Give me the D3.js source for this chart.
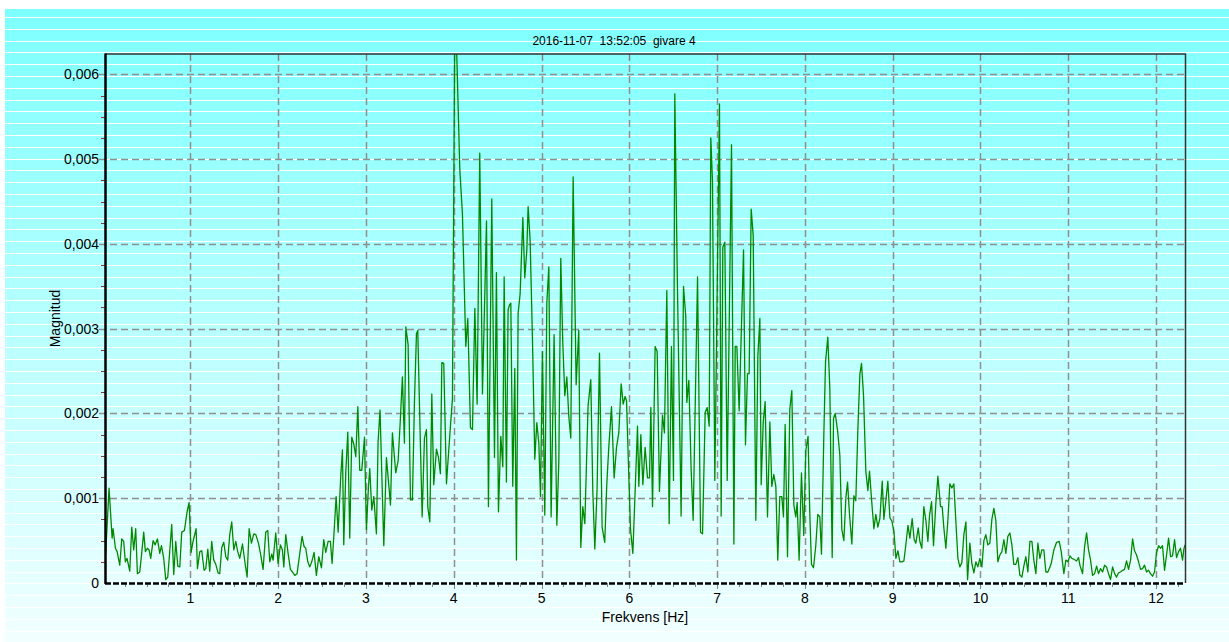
<!DOCTYPE html>
<html>
<head>
<meta charset="utf-8">
<script src="https://cdn.jsdelivr.net/npm/d3@7"></script>
<style>
  body { margin: 0; background: #fff; }
  svg text { font-family: Arial, "Liberation Sans", sans-serif; fill: #000; }
</style>
</head>
<body>
<svg id="chart"></svg>
<script>
// ---- data ----
const chartTitle = "2016-11-07  13:52:05  givare 4";
const xLabel = "Frekvens [Hz]";
const yLabel = "Magnitud";

const xTicks = [1, 2, 3, 4, 5, 6, 7, 8, 9, 10, 11, 12];
// magnitude is kept in units of 0.001
const yTicks = [0, 1, 2, 3, 4, 5, 6];
const yTickLabels = ["0", "0,001", "0,002", "0,003", "0,004", "0,005", "0,006"];

const xDomain = [0.027, 12.33];
const yDomain = [0, 6.24];

// [frequency Hz, magnitude x 0.001]
const spectrum = [
  [0.027,0.65],[0.035,0.35],[0.073,1.12],[0.108,0.53],[0.119,0.64],[0.146,0.41],[0.165,0.37],[0.195,0.21],[0.218,0.52],[0.240,0.49],
  [0.259,0.25],[0.278,0.29],[0.309,0.14],[0.332,0.66],[0.354,0.39],[0.377,0.64],[0.396,0.11],[0.423,0.13],[0.445,0.35],[0.468,0.60],
  [0.487,0.37],[0.510,0.41],[0.529,0.39],[0.548,0.29],[0.575,0.50],[0.598,0.45],[0.624,0.52],[0.651,0.35],[0.670,0.44],[0.696,0.29],
  [0.719,0.04],[0.742,0.07],[0.765,0.38],[0.787,0.69],[0.810,0.10],[0.833,0.49],[0.856,0.20],[0.879,0.19],[0.901,0.60],[0.932,0.62],
  [0.962,0.84],[0.985,0.95],[1.008,0.36],[1.030,0.49],[1.065,0.64],[1.080,0.17],[1.107,0.37],[1.129,0.38],[1.156,0.15],[1.175,0.17],
  [1.198,0.40],[1.220,0.14],[1.243,0.49],[1.266,0.27],[1.289,0.22],[1.315,0.12],[1.334,0.11],[1.357,0.42],[1.380,0.48],[1.403,0.31],
  [1.425,0.27],[1.448,0.57],[1.471,0.72],[1.494,0.39],[1.517,0.49],[1.539,0.37],[1.562,0.29],[1.593,0.46],[1.623,0.23],[1.646,0.07],
  [1.669,0.64],[1.695,0.47],[1.722,0.58],[1.745,0.57],[1.775,0.47],[1.798,0.35],[1.828,0.16],[1.858,0.60],[1.881,0.62],[1.904,0.25],
  [1.927,0.34],[1.942,0.27],[1.972,0.59],[1.999,0.23],
  [2.025,0.45],[2.048,0.39],[2.064,0.19],[2.086,0.57],[2.113,0.35],[2.139,0.16],[2.162,0.13],[2.189,0.09],[2.215,0.11],[2.246,0.35],
  [2.272,0.55],[2.295,0.43],[2.314,0.41],[2.337,0.25],[2.360,0.19],[2.382,0.25],[2.409,0.36],[2.435,0.09],[2.462,0.31],[2.493,0.18],
  [2.519,0.51],[2.542,0.36],[2.569,0.49],[2.595,0.49],[2.614,0.23],[2.637,0.61],[2.660,1.02],[2.683,0.60],[2.713,1.27],[2.732,1.57],
  [2.747,0.45],[2.770,1.31],[2.793,1.78],[2.815,0.53],[2.838,1.72],[2.861,1.64],[2.884,1.49],[2.907,2.08],[2.929,1.33],[2.952,1.33],
  [2.983,1.72],[3.005,0.63],[3.028,1.13],[3.043,1.35],[3.066,0.86],[3.089,1.02],[3.119,0.58],[3.138,1.67],
  [3.160,2.04],[3.203,0.44],[3.233,1.48],[3.256,1.20],[3.279,0.92],[3.301,1.77],[3.339,1.30],[3.366,1.44],[3.390,1.90],[3.415,2.43],
  [3.438,1.65],[3.454,3.02],[3.480,2.81],[3.507,0.98],[3.529,0.98],[3.552,2.13],[3.575,2.94],[3.590,2.98],[3.613,1.93],[3.640,0.78],
  [3.666,1.71],[3.689,1.81],[3.704,0.90],[3.727,0.72],[3.750,2.23],[3.772,1.16],[3.803,1.58],[3.826,1.48],[3.848,1.29],[3.864,2.60],
  [3.886,2.59],[3.917,1.17],[3.940,1.52],[3.962,1.85],[3.985,2.17],[4.012,6.60],[4.035,6.20],[4.069,4.87],[4.099,4.35],[4.137,2.79],
  [4.160,3.12],[4.190,1.83],[4.213,1.81],[4.240,3.24],[4.266,2.11],[4.296,5.07],[4.327,2.23],[4.373,4.27],[4.395,0.90],[4.433,4.53],
  [4.464,1.48],[4.486,3.66],[4.509,0.84],
  [4.536,1.73],[4.559,1.37],[4.574,3.61],[4.600,1.19],[4.619,3.22],[4.635,3.28],[4.650,3.30],[4.672,1.14],[4.695,2.53],[4.714,0.27],
  [4.733,3.18],[4.756,3.41],[4.787,4.31],[4.809,3.60],[4.832,3.92],[4.847,4.44],[4.870,4.04],[4.897,2.85],[4.923,1.46],[4.946,1.89],
  [4.969,1.65],[4.988,1.02],[5.010,2.73],[5.037,0.80],[5.060,3.30],[5.083,3.73],[5.109,0.78],[5.143,2.93],[5.174,0.68],[5.197,1.44],
  [5.219,3.83],[5.242,2.83],[5.265,2.21],[5.288,2.43],[5.310,1.97],[5.333,1.71],[5.360,4.79],[5.394,2.34],[5.424,2.98],[5.447,0.42],
  [5.470,0.90],[5.493,0.70],[5.530,2.09],[5.561,2.40],[5.584,1.08],[5.607,0.40],[5.633,1.12],[5.660,2.71],[5.690,0.66],[5.720,0.48],
  [5.743,1.16],[5.766,1.60],[5.797,2.08],[5.827,1.24],
  [5.854,1.60],[5.880,1.77],[5.907,2.35],[5.930,2.11],[5.952,2.20],[5.968,2.15],[5.990,1.40],[6.013,0.64],[6.040,0.35],[6.066,1.08],
  [6.093,1.85],[6.108,1.14],[6.131,1.75],[6.154,1.16],[6.180,1.60],[6.207,1.24],[6.230,1.24],[6.245,2.07],[6.264,0.90],[6.294,2.79],
  [6.317,2.73],[6.343,1.08],[6.378,1.98],[6.400,1.77],[6.427,3.45],[6.454,0.70],[6.480,2.79],[6.503,1.21],[6.518,5.77],[6.548,3.50],
  [6.590,0.79],[6.617,3.50],[6.643,3.14],[6.655,2.13],[6.678,2.39],[6.704,1.34],[6.727,0.74],[6.777,3.61],[6.811,0.60],[6.834,0.58],
  [6.864,2.01],[6.887,2.07],[6.910,1.85],
  [6.928,5.25],[6.947,4.75],[6.974,1.21],[7.027,5.65],[7.046,0.79],[7.065,3.96],[7.088,4.02],[7.115,1.21],[7.164,5.17],[7.191,0.46],
  [7.206,2.79],[7.225,2.79],[7.251,2.03],[7.301,3.93],[7.323,1.63],[7.346,2.47],[7.365,2.47],[7.388,4.41],[7.411,4.10],[7.441,0.74],
  [7.464,2.67],[7.487,3.12],[7.502,1.16],[7.525,1.89],[7.547,2.14],[7.574,0.78],[7.601,1.90],[7.623,1.14],[7.646,1.28],[7.669,1.14],
  [7.691,0.27],[7.714,1.02],[7.737,1.02],[7.756,0.78],[7.775,1.87],[7.802,0.31],[7.828,2.05],[7.851,2.27],[7.874,0.92],[7.896,0.78],
  [7.912,0.95],[7.934,0.27],[7.961,1.30],[7.987,0.56],[8.010,1.56],[8.036,1.73],
  [8.056,0.81],[8.075,0.22],[8.098,0.18],[8.124,0.44],[8.147,0.81],[8.170,0.78],[8.189,0.34],[8.216,1.76],[8.235,2.61],[8.261,2.90],
  [8.284,2.29],[8.311,0.30],[8.326,1.94],[8.345,2.00],[8.372,1.80],[8.398,1.51],[8.421,0.63],[8.444,0.50],[8.467,1.01],[8.486,1.19],
  [8.508,0.81],[8.535,0.46],[8.558,1.03],[8.580,0.97],[8.603,1.80],[8.626,2.46],[8.645,2.59],[8.668,2.21],[8.694,1.32],[8.717,1.09],
  [8.736,1.32],[8.759,0.99],[8.786,0.64],[8.808,0.81],[8.831,0.66],[8.854,0.76],[8.881,1.20],[8.900,0.75],[8.922,0.97],[8.945,1.20],
  [8.968,0.77],[8.991,0.73],[9.014,0.61],[9.037,0.29],[9.060,0.38],[9.082,0.25],[9.105,0.25],[9.128,0.26],[9.151,0.46],[9.174,0.68],
  [9.196,0.53],
  [9.222,0.76],[9.245,0.51],[9.264,0.47],[9.291,0.65],[9.310,0.49],[9.332,0.41],[9.355,0.90],[9.378,0.74],[9.401,0.49],[9.420,0.80],
  [9.443,0.96],[9.465,0.44],[9.492,0.94],[9.515,1.26],[9.545,0.90],[9.564,0.90],[9.583,0.65],[9.606,0.41],[9.629,0.74],[9.651,1.17],
  [9.674,1.12],[9.697,1.17],[9.720,0.72],[9.743,0.29],[9.765,0.19],[9.788,0.24],[9.811,0.57],[9.834,0.72],[9.853,0.04],[9.879,0.47],
  [9.902,0.23],[9.925,0.12],[9.948,0.25],[9.970,0.19],[9.993,0.29],[10.016,0.19],[10.039,0.50],[10.061,0.57],[10.084,0.45],[10.107,0.47],
  [10.130,0.75],[10.153,0.88],[10.175,0.74],[10.198,0.25],[10.221,0.33],[10.244,0.37],[10.267,0.51],[10.289,0.35],[10.312,0.55],[10.335,0.59],
  [10.358,0.45],[10.380,0.22],[10.403,0.22],[10.426,0.30],[10.449,0.09],[10.472,0.07],[10.494,0.20],[10.517,0.31],[10.540,0.13],[10.563,0.49],
  [10.586,0.49],[10.608,0.27],[10.631,0.11],[10.654,0.47],[10.677,0.29],[10.699,0.39],[10.722,0.39],[10.745,0.13],[10.768,0.13],[10.791,0.19],
  [10.806,0.23],[10.836,0.39],[10.867,0.48],[10.897,0.49],[10.920,0.37],[10.950,0.11],[10.973,0.27],[10.996,0.25],[11.019,0.32],[11.041,0.29],
  [11.064,0.28],[11.095,0.26],[11.117,0.30],[11.133,0.21],[11.163,0.11],[11.186,0.43],[11.209,0.59],[11.231,0.39],[11.254,0.27],[11.277,0.09],
  [11.300,0.11],[11.323,0.20],[11.345,0.11],[11.368,0.17],[11.391,0.13],[11.414,0.21],[11.436,0.19],[11.459,0.11],[11.482,0.04],[11.505,0.19],
  [11.528,0.11],[11.550,0.07],[11.573,0.12],[11.596,0.13],[11.619,0.15],[11.641,0.16],[11.664,0.26],[11.687,0.16],[11.710,0.27],[11.733,0.52],
  [11.755,0.38],[11.778,0.33],[11.801,0.25],[11.824,0.16],[11.846,0.17],[11.869,0.21],[11.892,0.13],[11.915,0.15],[11.937,0.11],[11.960,0.08],
  [11.983,0.13],[12.006,0.36],[12.029,0.44],[12.052,0.41],[12.074,0.44],[12.097,0.15],[12.120,0.33],[12.143,0.53],[12.166,0.31],[12.188,0.32],
  [12.211,0.51],[12.234,0.30],[12.257,0.37],[12.279,0.41],[12.302,0.27],[12.317,0.40],[12.330,0.45]
];

// ---- layout ----
const width = 1229, height = 642;
const plot = { left: 105, right: 1185, top: 54, bottom: 583 };

const svg = d3.select("#chart")
    .attr("width", width)
    .attr("height", height);

// background panel: cyan to white gradient with thin white stripes
const defs = svg.append("defs");
const grad = defs.append("linearGradient")
    .attr("id", "bg")
    .attr("x1", 0).attr("y1", 0).attr("x2", 0).attr("y2", 1);
grad.append("stop").attr("offset", "0%").attr("stop-color", "#7dffff");
grad.append("stop").attr("offset", "100%").attr("stop-color", "#f2ffff");

defs.append("clipPath").attr("id", "plotClip")
    .append("rect")
    .attr("x", plot.left).attr("y", plot.top)
    .attr("width", plot.right - plot.left)
    .attr("height", plot.bottom - plot.top);

svg.append("rect")
    .attr("x", 5).attr("y", 9)
    .attr("width", width - 5).attr("height", height - 9)
    .attr("fill", "url(#bg)");

svg.append("g")
    .selectAll("line")
    .data(d3.range(17, height, 11.8))
    .enter()
    .append("line")
    .attr("x1", 5).attr("x2", width)
    .attr("y1", d => Math.round(d) + 0.5)
    .attr("y2", d => Math.round(d) + 0.5)
    .attr("stroke", "#fff")
    .attr("stroke-width", 1);

// scales
const x = d3.scaleLinear().domain(xDomain).range([plot.left, plot.right]);
const y = d3.scaleLinear().domain(yDomain).range([plot.bottom, plot.top]);

// grid (dashed grey)
const grid = svg.append("g")
    .attr("stroke", "#8f8f8f")
    .attr("stroke-width", 1.5)
    .attr("stroke-dasharray", "7,4");

grid.selectAll(".gx")
    .data(xTicks)
    .enter()
    .append("line")
    .attr("x1", d => Math.round(x(d)) + 0.5)
    .attr("x2", d => Math.round(x(d)) + 0.5)
    .attr("y1", plot.top)
    .attr("y2", plot.bottom);

grid.selectAll(".gy")
    .data(yTicks.filter(d => d > 0))
    .enter()
    .append("line")
    .attr("x1", plot.left - 6)
    .attr("x2", plot.right)
    .attr("y1", d => Math.round(y(d)) + 0.5)
    .attr("y2", d => Math.round(y(d)) + 0.5);

// minor ticks
const xMinor = d3.range(0.25, xDomain[1], 0.25);
svg.append("g")
    .selectAll("line")
    .data(xMinor)
    .enter()
    .append("line")
    .attr("x1", d => Math.round(x(d)) + 0.5)
    .attr("x2", d => Math.round(x(d)) + 0.5)
    .attr("y1", plot.bottom)
    .attr("y2", d => Number.isInteger(d) ? plot.bottom + 6 : plot.bottom + 4)
    .attr("stroke", "#808080")
    .attr("stroke-width", 1);

const yMinor = d3.range(0.25, yDomain[1], 0.25).filter(d => !Number.isInteger(d));
svg.append("g")
    .selectAll("line")
    .data(yMinor)
    .enter()
    .append("line")
    .attr("x1", plot.left - 4)
    .attr("x2", plot.left)
    .attr("y1", d => Math.round(y(d)) + 0.5)
    .attr("y2", d => Math.round(y(d)) + 0.5)
    .attr("stroke", "#8b3a3a")
    .attr("stroke-width", 1);

// ticks on the top border
svg.append("g")
    .selectAll("line")
    .data(xTicks)
    .enter()
    .append("line")
    .attr("x1", d => Math.round(x(d)) + 0.5)
    .attr("x2", d => Math.round(x(d)) + 0.5)
    .attr("y1", plot.top)
    .attr("y2", plot.top + 6)
    .attr("stroke", "#808080");

// the spectrum
const line = d3.line()
    .x(d => x(d[0]))
    .y(d => y(d[1]));

svg.append("path")
    .datum(spectrum)
    .attr("clip-path", "url(#plotClip)")
    .attr("fill", "none")
    .attr("stroke", "#008a00")
    .attr("stroke-width", 1.3)
    .attr("stroke-linejoin", "round")
    .attr("d", line);

// frame
svg.append("line")
    .attr("x1", plot.left).attr("x2", plot.right + 1)
    .attr("y1", plot.top).attr("y2", plot.top)
    .attr("stroke", "#333").attr("stroke-width", 1.5);
svg.append("line")
    .attr("x1", plot.right + 0.5).attr("x2", plot.right + 0.5)
    .attr("y1", plot.top).attr("y2", plot.bottom)
    .attr("stroke", "#333").attr("stroke-width", 1.5);
svg.append("line")
    .attr("x1", plot.left + 0.5).attr("x2", plot.left + 0.5)
    .attr("y1", plot.top - 0.5).attr("y2", plot.bottom + 1)
    .attr("stroke", "#000").attr("stroke-width", 2.5);
svg.append("line")
    .attr("x1", plot.left).attr("x2", plot.right)
    .attr("y1", plot.bottom + 0.5).attr("y2", plot.bottom + 0.5)
    .attr("stroke", "#000").attr("stroke-width", 2.5)
    .attr("stroke-dasharray", "6,2");

// tick labels
svg.append("g")
    .selectAll("text")
    .data(xTicks)
    .enter()
    .append("text")
    .attr("x", d => x(d))
    .attr("y", plot.bottom + 20)
    .attr("text-anchor", "middle")
    .style("font-size", "14px")
    .text(d => d);

svg.append("g")
    .selectAll("text")
    .data(yTicks)
    .enter()
    .append("text")
    .attr("x", plot.left - 6)
    .attr("y", d => y(d))
    .attr("dy", "0.36em")
    .attr("text-anchor", "end")
    .style("font-size", "14px")
    .text((d, i) => yTickLabels[i]);

// titles
svg.append("text")
    .attr("x", 614)
    .attr("y", 45)
    .attr("text-anchor", "middle")
    .attr("xml:space", "preserve")
    .style("white-space", "pre")
    .style("font-size", "12px")
    .text(chartTitle);

svg.append("text")
    .attr("x", (plot.left + plot.right) / 2)
    .attr("y", 622)
    .attr("text-anchor", "middle")
    .style("font-size", "14px")
    .text(xLabel);

svg.append("text")
    .attr("transform", `translate(60, ${(plot.top + plot.bottom) / 2}) rotate(-90)`)
    .attr("text-anchor", "middle")
    .style("font-size", "14px")
    .text(yLabel);
</script>
</body>
</html>
